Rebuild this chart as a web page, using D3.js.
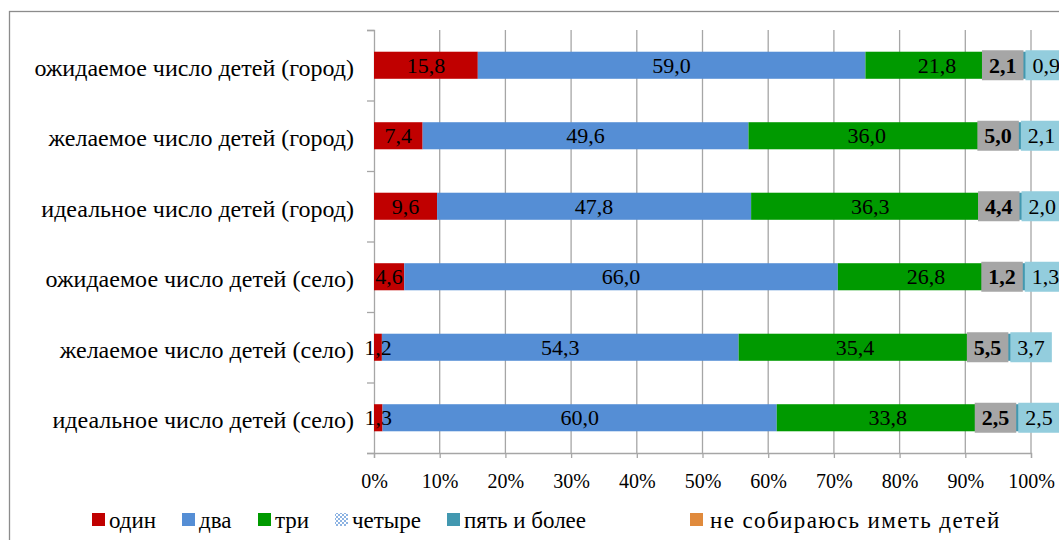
<!DOCTYPE html>
<html><head><meta charset="utf-8">
<script src="https://cdn.jsdelivr.net/npm/d3@7"></script>
<style>
html,body{margin:0;padding:0;background:#fff;overflow:hidden;}
text{font-family:"Liberation Serif","Times New Roman",Tinos,"DejaVu Serif",serif !important;}
</style></head>
<body>
<svg id="chart" width="1059" height="540"></svg>
<script>
const categories = [
  "ожидаемое число детей (город)",
  "желаемое число детей (город)",
  "идеальное число детей (город)",
  "ожидаемое число детей (село)",
  "желаемое число детей (село)",
  "идеальное число детей (село)"
];
const seriesNames = ["один", "два", "три", "четыре", "пять и более", "не собираюсь иметь детей"];
const one   = [15.8, 7.4, 9.6, 4.6, 1.2, 1.3];
const two   = [59.0, 49.6, 47.8, 66.0, 54.3, 60.0];
const three = [21.8, 36.0, 36.3, 26.8, 35.4, 33.8];
const four  = [2.1, 5.0, 4.4, 1.2, 5.5, 2.5];
const fivePlus = [0.9, 2.1, 2.0, 1.3, 3.7, 2.5];
const none  = [0.4, 0.0, 0.0, 0.1, 0.0, 0.0];
const xTicks = [0, 0.1, 0.2, 0.3, 0.4, 0.5, 0.6, 0.7, 0.8, 0.9, 1.0];

const colors = ["#C00000", "#558ED5", "#009A00", "url(#checker)", "#4298B0", "#E08A3C"];
const seriesData = [one, two, three, four, fivePlus, none];

const svg = d3.select("#chart");
const defs = svg.append("defs");
const pat = defs.append("pattern").attr("id", "checker").attr("patternUnits", "userSpaceOnUse")
  .attr("width", 4).attr("height", 4);
pat.append("rect").attr("width", 4).attr("height", 4).attr("fill", "#ffffff");
pat.append("rect").attr("width", 2).attr("height", 2).attr("fill", "#8DB3E2");
pat.append("rect").attr("x", 2).attr("y", 2).attr("width", 2).attr("height", 2).attr("fill", "#8DB3E2");

// outer frame
svg.append("rect").attr("x", 9.5).attr("y", 11.5).attr("width", 1200).attr("height", 700)
  .attr("fill", "none").attr("stroke", "#8C8C8C").attr("stroke-width", 1.3);

const x = d3.scaleLinear().domain([0, 1]).range([374, 1031]);
const y = d3.scaleBand().domain(categories).range([30, 453]).paddingInner(0.616).paddingOuter(0.308);
const yIdx = d3.scaleLinear().domain([0, categories.length]).range([30, 453]);

// gridlines
svg.append("g").selectAll("line").data(xTicks.slice(1)).join("line")
  .attr("x1", d => x(d)).attr("x2", d => x(d)).attr("y1", 30).attr("y2", 453)
  .attr("stroke", "#A6A6A6").attr("stroke-width", 1.3);

// x axis
const xAxis = svg.append("g").attr("transform", "translate(0,453)")
  .call(d3.axisBottom(x).tickValues(xTicks).tickFormat(d3.format(".0%")).tickSize(5).tickPadding(16));
xAxis.select(".domain").attr("stroke", "#A6A6A6").attr("stroke-width", 1.3);
xAxis.selectAll(".tick line").attr("stroke", "#A6A6A6").attr("stroke-width", 1.3);
xAxis.selectAll("text").attr("font-size", 20).attr("fill", "#000");

// y axis
const yAxis = svg.append("g").attr("transform", "translate(374,0)")
  .call(d3.axisLeft(yIdx).ticks(categories.length).tickFormat("").tickSize(7).tickSizeOuter(7));
yAxis.select(".domain").attr("stroke", "#A6A6A6").attr("stroke-width", 1.3);
yAxis.selectAll(".tick line").attr("stroke", "#A6A6A6").attr("stroke-width", 1.3);

// category labels
svg.append("g").selectAll("text").data(categories).join("text")
  .attr("x", 354).attr("y", d => y(d) + y.bandwidth() / 2 + 2).attr("dy", "0.35em")
  .attr("text-anchor", "end").attr("font-size", 24).attr("fill", "#000").text(d => d);

// stacked data
const rows = categories.map((c, i) => {
  const r = { cat: c };
  seriesNames.forEach((s, j) => r[s] = seriesData[j][i] / 100);
  return r;
});
const stack = d3.stack().keys(seriesNames)(rows);

const fmt = v => d3.format(".1f")(v * 100).replace(".", ",");

stack.forEach((layer, j) => {
  svg.append("g").selectAll("rect").data(layer).join("rect")
    .attr("x", d => x(d[0])).attr("width", d => Math.max(0, x(d[1]) - x(d[0])))
    .attr("y", d => y(d.data.cat)).attr("height", y.bandwidth())
    .attr("fill", colors[j]);
});

// labels for first three series, centered
stack.slice(0, 3).forEach(layer => {
  svg.append("g").selectAll("text").data(layer).join("text")
    .attr("x", d => (x(d[0]) + x(d[1])) / 2).attr("y", d => y(d.data.cat) + y.bandwidth() / 2)
    .attr("dy", "0.35em").attr("text-anchor", "middle").attr("font-size", 22).attr("fill", "#000")
    .text(d => fmt(d[1] - d[0]));
});

// boxed labels for "четыре" and "пять и более"
const boxH = 30;
stack[3].forEach((d, i) => {
  const cy = y(d.data.cat) + y.bandwidth() / 2;
  const g4 = svg.append("g");
  const t4 = g4.append("text").attr("font-size", 22).attr("font-weight", "bold").attr("fill", "#000")
    .attr("text-anchor", "middle").attr("dy", "0.35em").attr("y", cy).text(fmt(d[1] - d[0]));
  const w4 = t4.node().getComputedTextLength() + 14;
  const right4 = x(d[1]) + 1;
  g4.insert("rect", "text").attr("x", right4 - w4).attr("y", cy - boxH / 2).attr("width", w4).attr("height", boxH)
    .attr("fill", "#A6A6A6");
  t4.attr("x", right4 - w4 / 2);

  const d5 = stack[4][i];
  const g5 = svg.append("g");
  const t5 = g5.append("text").attr("font-size", 22).attr("fill", "#000")
    .attr("text-anchor", "middle").attr("dy", "0.35em").attr("y", cy).text(fmt(d5[1] - d5[0]));
  const w5 = t5.node().getComputedTextLength() + 14;
  const left5 = right4 + 2;
  g5.insert("rect", "text").attr("x", left5).attr("y", cy - boxH / 2).attr("width", w5).attr("height", boxH)
    .attr("fill", "#93CDDD");
  t5.attr("x", left5 + w5 / 2);
});

// legend (item anchor positions are layout, not data)
const legendX = [92, 182, 258, 335, 447, 690];
const legend = svg.append("g");
seriesNames.forEach((s, j) => {
  const lx = legendX[j];
  const last = j === seriesNames.length - 1;
  legend.append("rect").attr("x", lx).attr("y", 513).attr("width", 13).attr("height", 13).attr("fill", colors[j]);
  legend.append("text").attr("x", lx + (last ? 20 : 17)).attr("y", 520).attr("dy", "0.35em")
    .attr("font-size", 23).attr("letter-spacing", last ? 1.4 : 0).attr("fill", "#000").text(s);
});
</script>
</body></html>
